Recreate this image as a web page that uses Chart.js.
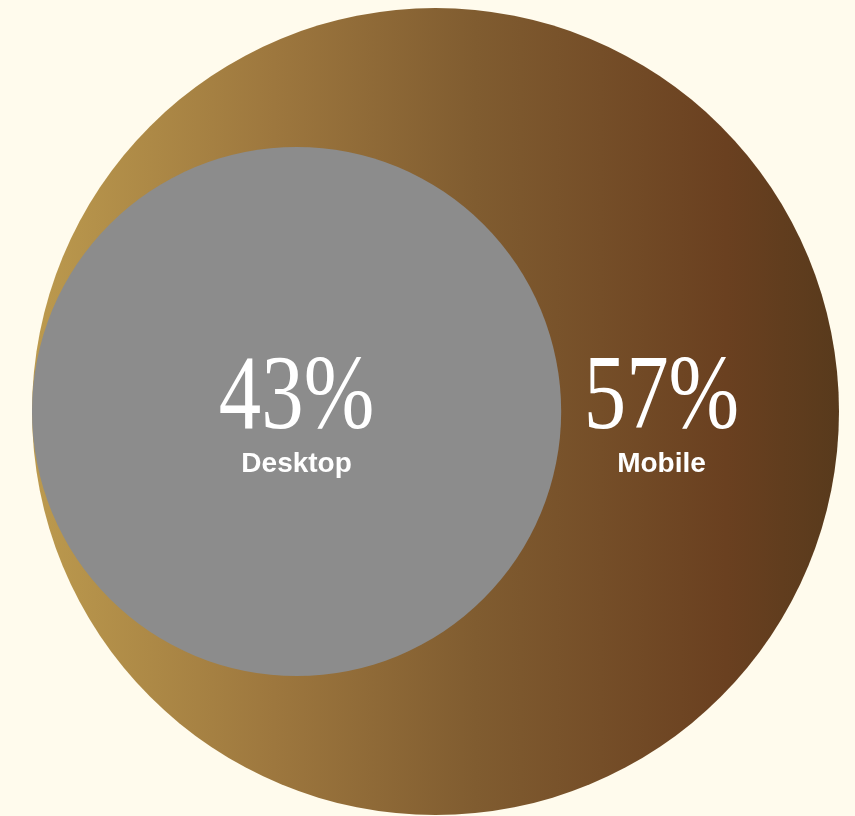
<!DOCTYPE html>
<html>
<head>
<meta charset="utf-8">
<script src="https://cdn.jsdelivr.net/npm/chart.js@4/dist/chart.umd.min.js"></script>
<style>
  html, body { margin: 0; padding: 0; background: #fffbed; }
  canvas { display: block; }
</style>
</head>
<body>
<canvas id="chart" width="855" height="816"></canvas>
<script>
// device share, in percent of all traffic
const categories = ['Mobile', 'Desktop'];
const shares = [57, 43];
const total = 100;

const brownStops = [
    [0, '#bc9a4e'],
    [0.3, '#9d773e'],
    [0.55, '#805c30'],
    [0.86, '#6a4020'],
    [1, '#583a1c']
];

const canvas = document.getElementById('chart');
const pad = { left: 32, right: 16, top: 8, bottom: 1 };
const plotWidth = canvas.width - pad.left - pad.right;

// outer circle = all traffic, inner circle = desktop share (area ∝ value)
const outerFrac = 0.5;                                   // radius in x-scale units
const innerFrac = outerFrac * Math.sqrt(shares[1] / total);

const labelPlugin = {
    id: 'shareLabels',
    afterDatasetsDraw(chart) {
        const c = chart.ctx;
        const outer = chart.getDatasetMeta(0).data[0];
        const inner = chart.getDatasetMeta(1).data[0];
        const R = outer.options.radius;
        const spots = [
            { x: outer.x + R * 0.56, y: inner.y, i: 0 },
            { x: inner.x, y: inner.y, i: 1 }
        ];
        c.save();
        c.fillStyle = '#ffffff';
        c.textAlign = 'center';
        c.textBaseline = 'alphabetic';
        spots.forEach(s => {
            c.save();
            c.translate(s.x, s.y + 16);
            c.scale(0.8, 1);
            c.font = '106px "Liberation Serif", "DejaVu Serif", serif';
            c.fillText(shares[s.i] + '%', 0, 0);
            c.restore();
            c.font = 'bold 28px "Liberation Sans", Arial, sans-serif';
            c.fillText(categories[s.i], s.x, s.y + 60);
        });
        c.restore();
    }
};

new Chart(canvas.getContext('2d'), {
    type: 'bubble',
    data: {
        datasets: [
            {
                label: 'All traffic',
                data: [{ x: 0.5, y: 0.5, r: plotWidth * outerFrac }],
                backgroundColor: (c) => {
                    const area = c.chart.chartArea;
                    if (!area) return brownStops[2][1];
                    const g = c.chart.ctx.createLinearGradient(area.left, 0, area.right, 0);
                    brownStops.forEach(s => g.addColorStop(s[0], s[1]));
                    return g;
                },
                borderWidth: 0,
                clip: false,
                order: 2
            },
            {
                label: categories[1],
                data: [{ x: innerFrac, y: 0.5, r: plotWidth * innerFrac }],
                backgroundColor: '#8c8c8c',
                borderWidth: 0,
                clip: false,
                order: 1
            }
        ]
    },
    options: {
        responsive: false,
        animation: false,
        events: [],
        layout: { padding: pad, autoPadding: false },
        plugins: {
            legend: { display: false },
            tooltip: { enabled: false }
        },
        scales: {
            x: { type: 'linear', min: 0, max: 1, display: false },
            y: { type: 'linear', min: 0, max: 1, display: false }
        }
    },
    plugins: [labelPlugin]
});
</script>
</body>
</html>
